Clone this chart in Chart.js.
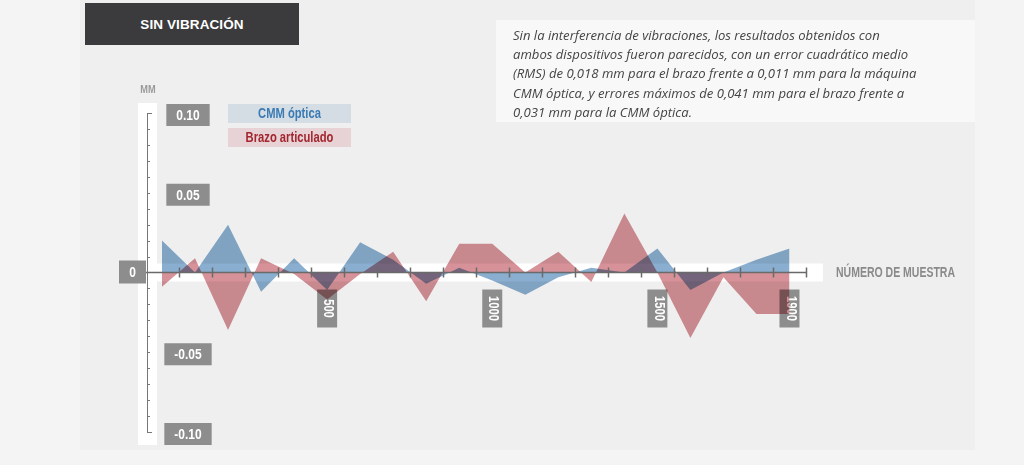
<!DOCTYPE html>
<html>
<head>
<meta charset="utf-8">
<script src="https://cdn.jsdelivr.net/npm/chart.js@4.4.0/dist/chart.umd.min.js"></script>
<style>
  html, body { margin:0; padding:0; background:#f4f4f4; }
  #wrap { position:relative; width:1024px; height:465px; overflow:hidden; }
  canvas { position:absolute; left:0; top:0; }
  #title { position:absolute; left:85px; top:3px; width:214px; height:42px; background:#3b3a3d;
    color:#fff; font:bold 13.5px 'Liberation Sans', Arial, sans-serif; letter-spacing:0.1px;
    display:flex; align-items:center; justify-content:center; }
  #note { position:absolute; left:496px; top:20px; width:479px; height:102px; background:rgba(255,255,255,0.55);
    box-sizing:border-box; padding:6px 0 0 17px; color:#444;
    font:italic 13.1px/19.2px 'Open Sans', 'Noto Sans', sans-serif; white-space:nowrap; }
</style>
</head>
<body>
<div id="wrap">
  <canvas id="c" width="1024" height="465"></canvas>
  <div id="title">SIN VIBRACIÓN</div>
  <div id="note">Sin la interferencia de vibraciones, los resultados obtenidos con<br>ambos dispositivos fueron parecidos, con un error cuadrático medio<br>(RMS) de 0,018 mm para el brazo frente a 0,011 mm para la máquina<br>CMM óptica, y errores máximos de 0,041 mm para el brazo frente a<br>0,031 mm para la CMM óptica.</div>
</div>
<script>
// ---- data ----
const sampleNumbers = [0,100,200,300,400,500,600,700,800,900,1000,1100,1200,1300,1400,1500,1600,1700,1800,1900];
const cmmOptica      = [0.020,0.000,0.030,-0.012,0.009,-0.011,0.019,0.008,-0.007,0.003,-0.005,-0.014,-0.003,0.003,0.000,0.015,-0.011,0.000,0.008,0.015];
const brazoArticulado= [-0.009,0.009,-0.036,0.009,-0.001,-0.017,-0.001,0.013,-0.018,0.018,0.018,0.000,0.013,-0.006,0.037,0.000,-0.041,-0.003,-0.026,-0.026];
const seriesNames = ['CMM óptica', 'Brazo articulado'];
const yTickValues = [0.10, 0.05, -0.05, -0.10];
const yTickLabels = ['0.10', '0.05', '-0.05', '-0.10'];
const xTickValues = [500, 1000, 1500, 1900];
const xTickLabels = ['500', '1000', '1500', '1900'];
const yAxisTitle = 'MM';
const xAxisTitle = 'NÚMERO DE MUESTRA';

const FAM = "'Liberation Sans', Arial, sans-serif";
const SX = 0.8;
const blueFill = 'rgb(137,174,207)';
const redFill  = 'rgb(214,146,152)';
const labelBox = '#8d8d8d';

function toPts(vals){ return sampleNumbers.map((x,i)=>({x:x, y:vals[i]})); }

function condWidth(ctx, text, size){
  ctx.save(); ctx.font = 'bold ' + size + 'px ' + FAM;
  const w = ctx.measureText(text).width * SX; ctx.restore(); return w;
}
function condText(ctx, text, x, y, size, color, align, rot, sx){
  ctx.save();
  ctx.translate(x, y);
  if (rot) ctx.rotate(rot);
  ctx.scale(sx || SX, 1);
  ctx.font = 'bold ' + size + 'px ' + FAM;
  ctx.textAlign = align || 'center';
  ctx.textBaseline = 'middle';
  ctx.fillStyle = color;
  ctx.fillText(text, 0, 0);
  ctx.restore();
}

const deco = {
  id:'deco',
  beforeDraw(chart){
    const ctx = chart.ctx, xs = chart.scales.x, ys = chart.scales.y;
    ctx.save();
    ctx.fillStyle = '#f4f4f4'; ctx.fillRect(0,0,1024,465);
    ctx.fillStyle = '#efefef'; ctx.fillRect(80,0,895,450);
    const y0 = ys.getPixelForValue(0);
    const yTop = ys.getPixelForValue(0.10), yBot = ys.getPixelForValue(-0.10);
    const xEnd = xs.getPixelForValue(1950);
    // white strips
    ctx.fillStyle = '#ffffff';
    ctx.fillRect(138, yTop-10, 19, (yBot+13)-(yTop-10));
    ctx.fillRect(148, y0-9, (xEnd+17)-148, 18);
    // y tick label boxes
    yTickValues.forEach((v,i)=>{
      const py = ys.getPixelForValue(v) + 2;
      const w = condWidth(ctx, yTickLabels[i], 15) + 20;
      ctx.fillStyle = labelBox; ctx.fillRect(188 - w/2, py-11, w, 22);
      condText(ctx, yTickLabels[i], 188, py+1, 15, '#ffffff', 'center');
    });
    // zero label
    ctx.fillStyle = labelBox; ctx.fillRect(119, y0-12, 27, 23);
    condText(ctx, '0', 132.5, y0, 15, '#ffffff', 'center');
    // x tick label boxes (rotated)
    xTickValues.forEach((v,i)=>{
      const px = xs.getPixelForValue(v);
      ctx.fillStyle = labelBox; ctx.fillRect(px-10, y0+17, 20, 38);
      condText(ctx, xTickLabels[i], px+1, y0+36, 14, '#ffffff', 'center', Math.PI/2);
    });
    // axis titles
    condText(ctx, yAxisTitle, 148, yTop-23, 11.5, '#9a9a9a', 'center');
    condText(ctx, xAxisTitle, 836, y0+1, 14, '#8a8a8a', 'left', 0, 0.75);
    // legend
    const legendBg = ['#d4dde4', '#e7d3d6'];
    const legendFg = ['#3b7bb4', '#a3262f'];
    chart.data.datasets.forEach((ds,i)=>{
      const top = yTop - 9 + i*24;
      ctx.fillStyle = legendBg[i]; ctx.fillRect(228, top, 123, 19);
      condText(ctx, ds.label, 289.5, top+10, 14, legendFg[i], 'center');
    });
    ctx.restore();
  },
  beforeDatasetsDraw(chart){
    chart.ctx.save();
    chart.ctx.globalCompositeOperation = 'multiply';
  },
  afterDatasetsDraw(chart){
    const ctx = chart.ctx, xs = chart.scales.x, ys = chart.scales.y;
    ctx.restore();
    ctx.save();
    const y0 = ys.getPixelForValue(0);
    const xEnd = xs.getPixelForValue(1950);
    ctx.strokeStyle = '#6a6a6a'; ctx.lineWidth = 1.5;
    ctx.beginPath(); ctx.moveTo(146, y0); ctx.lineTo(xEnd, y0); ctx.stroke();
    for (let v = 50; v <= 1950; v += 100){
      const px = Math.round(xs.getPixelForValue(v)) + 0.5;
      ctx.beginPath(); ctx.moveTo(px, y0-5); ctx.lineTo(px, y0+5); ctx.stroke();
    }
    // y axis ruler
    ctx.strokeStyle = '#777'; ctx.lineWidth = 1;
    const yTop = ys.getPixelForValue(0.10), yBot = ys.getPixelForValue(-0.10);
    ctx.beginPath(); ctx.moveTo(147.5, yTop); ctx.lineTo(147.5, yBot); ctx.stroke();
    for (let k = -10; k <= 10; k++){
      if (k === 0) continue;
      const py = Math.round(ys.getPixelForValue(k/100)) + 0.5;
      const len = (Math.abs(k) === 10) ? 5 : 3;
      ctx.beginPath(); ctx.moveTo(147, py); ctx.lineTo(147+len, py); ctx.stroke();
    }
    ctx.restore();
  }
};

new Chart(document.getElementById('c'), {
  type: 'line',
  data: {
    datasets: [
      { label: seriesNames[0], data: toPts(cmmOptica), backgroundColor: blueFill, borderWidth: 0, fill: 'origin', pointRadius: 0, tension: 0 },
      { label: seriesNames[1], data: toPts(brazoArticulado), backgroundColor: redFill, borderWidth: 0, fill: 'origin', pointRadius: 0, tension: 0 }
    ]
  },
  options: {
    responsive: false,
    devicePixelRatio: 1,
    animation: false,
    layout: { padding: { left: 162, right: 218, top: 113, bottom: 33 } },
    scales: {
      x: { type: 'linear', min: 0, max: 1950, display: false },
      y: { type: 'linear', min: -0.10, max: 0.10, display: false }
    },
    plugins: { legend: { display: false }, tooltip: { enabled: false } }
  },
  plugins: [deco]
});
</script>
</body>
</html>
